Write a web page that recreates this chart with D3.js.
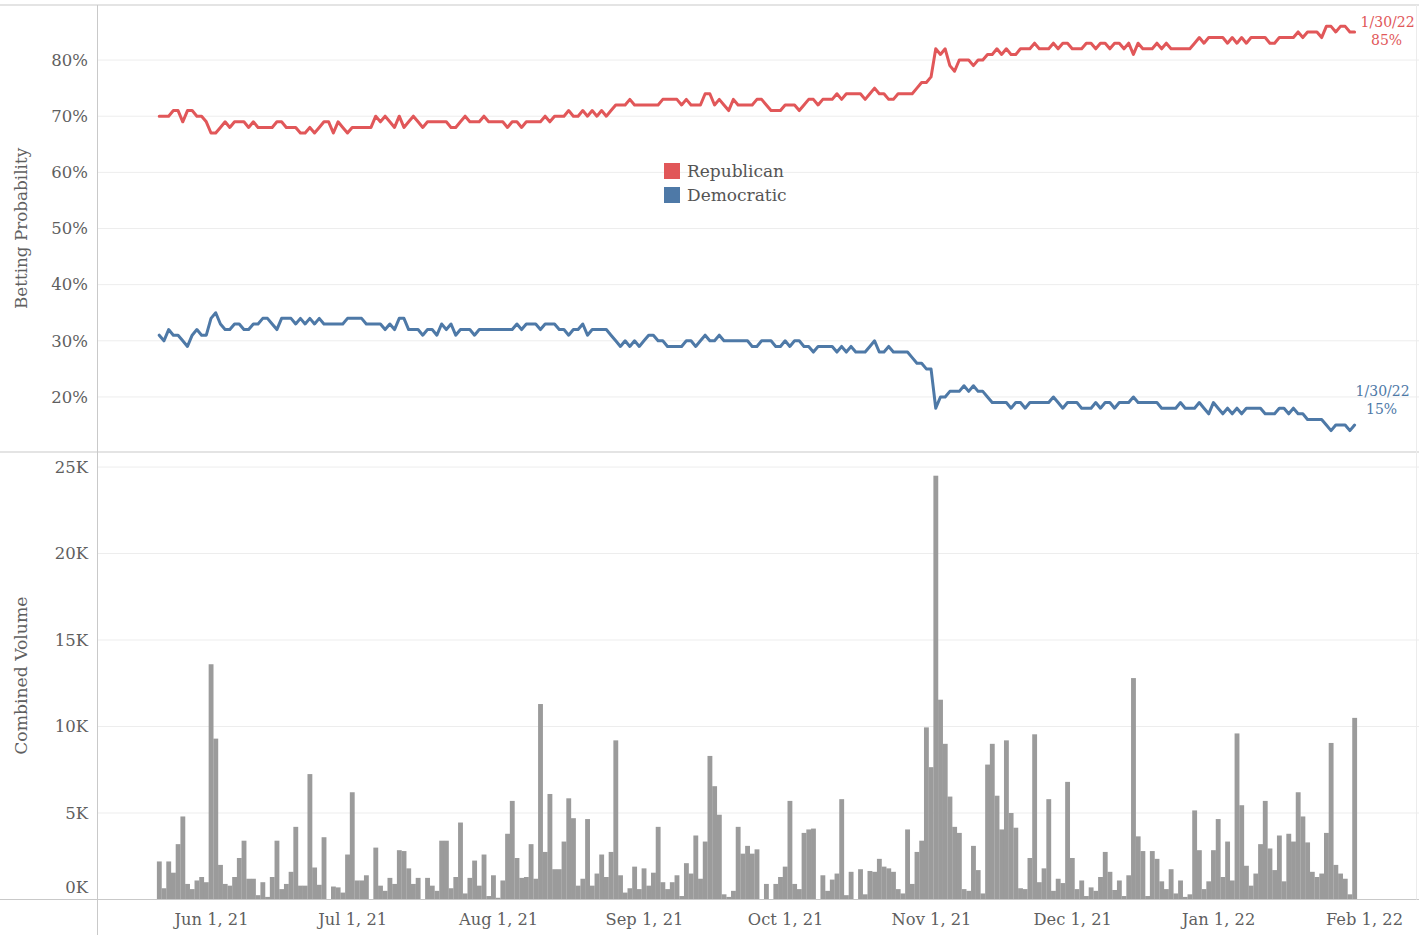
<!DOCTYPE html>
<html>
<head>
<meta charset="utf-8">
<script src="https://cdn.jsdelivr.net/npm/d3@7"></script>
<style>
  html, body { margin: 0; padding: 0; background: #fff; }
  svg { display: block; }
  text { font-family: "DejaVu Serif", "Liberation Serif", serif; }
</style>
</head>
<body>
<svg id="chart" width="1419" height="935"></svg>
<script>
// First trading day of the series; one value per day follows.
const startDate = new Date(2021, 4, 21);

// Republican betting probability, % (May 21, 2021 – Jan 30, 2022)
const republican = [
  70,70,70,71,71,69,71,71,70,70,
  69,67,67,68,69,68,69,69,69,68,
  69,68,68,68,68,69,69,68,68,68,
  67,67,68,67,68,69,69,67,69,68,
  67,68,68,68,68,68,70,69,70,69,
  68,70,68,69,70,69,68,69,69,69,
  69,69,68,68,69,70,69,69,69,70,
  69,69,69,69,68,69,69,68,69,69,
  69,69,70,69,70,70,70,71,70,70,
  71,70,71,70,71,70,71,72,72,72,
  73,72,72,72,72,72,72,73,73,73,
  73,72,73,72,72,72,74,74,72,73,
  72,71,73,72,72,72,72,73,73,72,
  71,71,71,72,72,72,71,72,73,73,
  72,73,73,73,74,73,74,74,74,74,
  73,74,75,74,74,73,73,74,74,74,
  74,75,76,76,77,82,81,82,79,78,
  80,80,80,79,80,80,81,81,82,81,
  82,81,81,82,82,82,83,82,82,82,
  83,82,83,83,82,82,82,83,83,82,
  83,83,82,83,83,82,83,81,83,82,
  82,82,83,82,83,82,82,82,82,82,
  83,84,83,84,84,84,84,83,84,83,
  84,83,84,84,84,84,83,83,84,84,
  84,84,85,84,85,85,85,84,86,86,
  85,86,86,85,85
];

// Democratic betting probability, %
const democratic = [
  31,30,32,31,31,30,29,31,32,31,
  31,34,35,33,32,32,33,33,32,32,
  33,33,34,34,33,32,34,34,34,33,
  34,33,34,33,34,33,33,33,33,33,
  34,34,34,34,33,33,33,33,32,33,
  32,34,34,32,32,32,31,32,32,31,
  33,32,33,31,32,32,32,31,32,32,
  32,32,32,32,32,32,33,32,33,33,
  33,32,33,33,33,32,32,31,32,32,
  33,31,32,32,32,32,31,30,29,30,
  29,30,29,30,31,31,30,30,29,29,
  29,29,30,30,29,30,31,30,30,31,
  30,30,30,30,30,30,29,29,30,30,
  30,29,29,30,29,30,30,29,29,28,
  29,29,29,29,28,29,28,29,28,28,
  28,29,30,28,28,29,28,28,28,28,
  27,26,26,25,25,18,20,20,21,21,
  21,22,21,22,21,21,20,19,19,19,
  19,18,19,19,18,19,19,19,19,19,
  20,19,18,19,19,19,18,18,18,19,
  18,19,19,18,19,19,19,20,19,19,
  19,19,19,18,18,18,18,19,18,18,
  18,19,18,17,19,18,17,18,17,18,
  17,18,18,18,18,17,17,17,18,18,
  17,18,17,17,16,16,16,16,15,14,
  15,15,15,14,15
];

// Combined daily volume, thousands
const volumeK = [
  2.2,0.65,2.2,1.55,3.2,4.8,0.9,0.6,1.1,1.3,
  1.0,13.6,9.3,2.0,0.9,0.8,1.3,2.4,3.4,1.2,
  1.2,0.25,1.0,0.15,1.3,3.4,0.6,0.9,1.6,4.2,
  0.8,0.8,7.25,1.85,0.85,3.6,0,0.75,0.7,0.4,
  2.6,6.2,1.1,1.1,1.4,0,3.0,0.8,0.5,1.25,
  0.9,2.85,2.8,1.8,0.9,1.25,0,1.25,0.8,0.5,
  3.4,3.4,0.65,1.3,4.45,0.35,1.25,2.25,0.8,2.6,
  0.2,1.4,0.1,1.1,3.8,5.7,2.4,1.25,1.3,3.2,
  1.2,11.3,2.75,6.1,1.75,1.75,3.35,5.85,4.7,0.8,
  1.2,4.65,0.8,1.5,2.6,1.3,2.75,9.2,1.4,0.4,
  0.65,1.9,0.6,1.8,0.8,1.55,4.2,1.0,0.6,1.0,
  1.4,0.2,2.1,1.5,3.7,1.2,3.35,8.3,6.55,4.9,
  0.3,0.15,0.5,4.2,2.65,3.1,2.65,2.9,0,0.9,
  0,0.9,1.3,1.9,5.7,0.9,0.6,3.85,4.05,4.1,
  0,1.4,0.5,1.15,1.5,5.8,0.25,1.6,0,1.75,
  0.3,1.65,1.6,2.35,1.9,1.8,1.6,0.6,0.35,4.05,
  0.9,2.75,3.4,9.95,7.65,24.5,11.55,9.0,5.95,4.2,
  3.85,0.6,0.5,3.1,1.7,0.35,7.8,9.0,6.0,4.05,
  9.2,5.0,4.15,0.65,0.6,2.4,9.55,1.0,1.8,5.8,
  0.5,1.2,0.95,6.8,2.4,0.6,1.1,0.2,0.7,0.5,
  1.3,2.75,1.6,0.55,1.1,0.2,1.4,12.8,3.65,2.8,
  0.2,2.8,2.35,1.05,0.6,1.75,0.35,1.1,0.15,0.3,
  5.15,2.85,0.6,1.05,2.85,4.65,1.3,3.35,1.1,9.6,
  5.45,1.95,0.8,1.5,3.2,5.7,2.95,1.7,3.7,1.05,
  3.8,3.35,6.2,4.8,3.3,1.6,1.3,1.5,3.85,9.05,
  2.0,1.5,1.2,0.3,10.5
];

const probTicks = [20, 30, 40, 50, 60, 70, 80];
const volumeTicks = [0, 5000, 10000, 15000, 20000, 25000];
const monthTicks = [
  new Date(2021, 5, 1), new Date(2021, 6, 1), new Date(2021, 7, 1),
  new Date(2021, 8, 1), new Date(2021, 9, 1), new Date(2021, 10, 1),
  new Date(2021, 11, 1), new Date(2022, 0, 1), new Date(2022, 1, 1)
];
const seriesNames = ["Republican", "Democratic"];
const seriesColors = ["#e15759", "#4e79a7"];

const W = 1419, H = 935;
const leftX = 97, rightX = 1419;
const topY = 5, splitY = 452, baseY = 899.5;

const dates = republican.map((_, i) => d3.timeDay.offset(startDate, i));
const rows = dates.map((d, i) => ({
  date: d, rep: republican[i], dem: democratic[i], vol: volumeK[i] * 1000
}));

const svg = d3.select("#chart");

// shared time axis
const x = d3.scaleTime()
  .domain([new Date(2021, 5, 1), new Date(2022, 1, 1)])
  .range([211, 1364]);

const yProb = d3.scaleLinear().domain([10.2, 89.8]).range([splitY, topY]);
const yVol = d3.scaleLinear().domain([0, 25870]).range([baseY, splitY]);

const gridColor = "#ededed";
const ruleColor = "#c9c9c9";
const tickColor = "#5f5f5f";

// gridlines
svg.append("g").selectAll("line").data(probTicks).join("line")
  .attr("x1", leftX).attr("x2", rightX)
  .attr("y1", d => yProb(d)).attr("y2", d => yProb(d))
  .attr("stroke", gridColor).attr("stroke-width", 1);
svg.append("g").selectAll("line").data(volumeTicks.filter(d => d > 0)).join("line")
  .attr("x1", leftX).attr("x2", rightX)
  .attr("y1", d => yVol(d)).attr("y2", d => yVol(d))
  .attr("stroke", gridColor).attr("stroke-width", 1);

// volume bars
const dayW = x(d3.timeDay.offset(startDate, 1)) - x(startDate);
svg.append("g").selectAll("rect").data(rows).join("rect")
  .attr("x", d => x(d.date) - dayW / 2)
  .attr("width", dayW + 0.15)
  .attr("y", d => yVol(d.vol))
  .attr("height", d => baseY - yVol(d.vol))
  .attr("fill", "#9b9b9b");

// frame rules
const rules = svg.append("g").attr("stroke", ruleColor).attr("stroke-width", 1);
rules.append("line").attr("x1", 0).attr("x2", W).attr("y1", topY).attr("y2", topY);
rules.append("line").attr("x1", 0).attr("x2", W).attr("y1", splitY).attr("y2", splitY);
rules.append("line").attr("x1", 0).attr("x2", W).attr("y1", baseY).attr("y2", baseY);
rules.append("line").attr("x1", leftX + 0.5).attr("x2", leftX + 0.5).attr("y1", topY).attr("y2", H);
rules.append("line").attr("x1", 1416.5).attr("x2", 1416.5).attr("y1", topY).attr("y2", baseY)
  .attr("stroke", "#ececec");

// probability lines
const keys = ["rep", "dem"];
keys.forEach((k, i) => {
  svg.append("path")
    .datum(rows)
    .attr("fill", "none")
    .attr("stroke", seriesColors[i])
    .attr("stroke-width", 3)
    .attr("stroke-linejoin", "round")
    .attr("stroke-linecap", "round")
    .attr("d", d3.line().x(d => x(d.date)).y(d => yProb(d[k])));
});

// y axes
const probAxis = svg.append("g")
  .attr("transform", `translate(${leftX - 9},0)`)
  .call(d3.axisLeft(yProb).tickValues(probTicks).tickSize(0).tickFormat(d => d + "%"));
const volAxis = svg.append("g")
  .attr("transform", `translate(${leftX - 9},0)`)
  .call(d3.axisLeft(yVol).tickValues(volumeTicks).tickSize(0).tickFormat(d => (d / 1000) + "K"));
[probAxis, volAxis].forEach(g => {
  g.select(".domain").remove();
  g.selectAll("text")
    .attr("font-family", "DejaVu Serif, serif")
    .attr("font-size", 16.5)
    .attr("fill", tickColor)
    .attr("x", 0);
});
// keep the 0K label inside the panel
volAxis.selectAll(".tick").filter(d => d === 0).select("text").attr("dy", "-0.4em");

// x axis
const xAxis = svg.append("g")
  .attr("transform", `translate(0,${baseY})`)
  .call(d3.axisBottom(x).tickValues(monthTicks).tickSize(0).tickPadding(14)
    .tickFormat(d3.timeFormat("%b %-d, %y")));
xAxis.select(".domain").remove();
xAxis.selectAll("text")
  .attr("font-family", "DejaVu Serif, serif")
  .attr("font-size", 16.3)
  .attr("fill", tickColor);

// axis titles
svg.append("text")
  .attr("transform", `translate(27,${(topY + splitY) / 2}) rotate(-90)`)
  .attr("text-anchor", "middle")
  .attr("font-size", 16.8).attr("fill", tickColor)
  .text("Betting Probability");
svg.append("text")
  .attr("transform", `translate(27,${(splitY + baseY) / 2}) rotate(-90)`)
  .attr("text-anchor", "middle")
  .attr("font-size", 17.2).attr("fill", tickColor)
  .text("Combined Volume");

// legend
const legend = svg.append("g").attr("transform", "translate(664,163)");
seriesNames.forEach((name, i) => {
  const row = legend.append("g").attr("transform", `translate(0,${i * 24})`);
  row.append("rect").attr("width", 16).attr("height", 16).attr("fill", seriesColors[i]);
  row.append("text").attr("x", 23).attr("y", 14)
    .attr("font-size", 17).attr("fill", "#555").text(name);
});

// end-of-series labels (date and last value)
const last = rows[rows.length - 1];
const fmtEnd = d3.timeFormat("%-m/%-d/%y");
[["rep", 0, -5, 33], ["dem", 1, -29, 28]].forEach(([k, i, dy, dx]) => {
  const lx = x(last.date) + dx;
  const ly = yProb(last[k]) + dy;
  const t = svg.append("text")
    .attr("text-anchor", "middle")
    .attr("font-size", 14)
    .attr("fill", seriesColors[i]);
  t.append("tspan").attr("x", lx).attr("y", ly).text(fmtEnd(last.date));
  t.append("tspan").attr("x", lx - 1).attr("y", ly + 18).text(last[k] + "%");
});
</script>
</body>
</html>
